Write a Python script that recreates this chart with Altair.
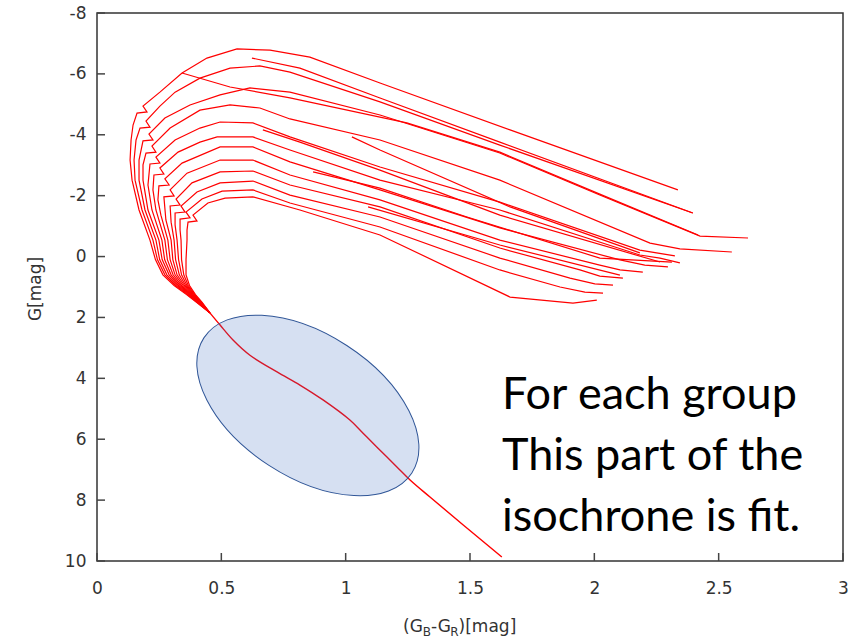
import altair as alt
import pandas as pd

# ---- axis ticks ----
x_ticks = [0, 0.5, 1, 1.5, 2, 2.5, 3]
y_ticks = [-8, -6, -4, -2, 0, 2, 4, 6, 8, 10]

# ---- shared lower main sequence ----
lms_x = [1.628, 1.339, 1.259, 1.206, 1.126, 1.070, 1.017, 0.909, 0.816, 0.724, 0.615, 0.547, 0.495, 0.454]
lms_g = [9.87, 7.90, 7.34, 6.91, 6.26, 5.80, 5.37, 4.71, 4.22, 3.79, 3.24, 2.74, 2.25, 1.85]

# ---- isochrones (upper MS, hook, giant branch) ----
iso_x = [
    [0.454, 0.400, 0.360, 0.310, 0.265, 0.235, 0.213, 0.169, 0.141, 0.133, 0.137, 0.145, 0.161, 0.201, 0.185, 0.253, 0.342, 0.442, 0.563, 0.696, 0.856, 1.138, 1.661, 2.336],
    [0.454, 0.402, 0.364, 0.316, 0.273, 0.243, 0.225, 0.181, 0.153, 0.149, 0.157, 0.173, 0.213, 0.197, 0.253, 0.314, 0.414, 0.535, 0.655, 0.776, 1.138, 1.620, 2.396],
    [0.454, 0.404, 0.368, 0.322, 0.281, 0.252, 0.237, 0.193, 0.169, 0.169, 0.185, 0.225, 0.209, 0.273, 0.374, 0.495, 0.615, 0.776, 1.138, 1.620, 2.022, 2.425, 2.618],
    [0.454, 0.406, 0.372, 0.328, 0.290, 0.262, 0.249, 0.205, 0.185, 0.185, 0.197, 0.237, 0.221, 0.294, 0.414, 0.535, 0.655, 0.776, 1.138, 1.620, 2.224, 2.344, 2.553],
    [0.454, 0.408, 0.375, 0.334, 0.298, 0.272, 0.261, 0.221, 0.205, 0.213, 0.253, 0.237, 0.314, 0.414, 0.495, 0.627, 0.776, 1.138, 1.620, 2.183, 2.324],
    [0.454, 0.410, 0.378, 0.340, 0.306, 0.283, 0.273, 0.237, 0.225, 0.229, 0.269, 0.253, 0.326, 0.414, 0.483, 0.627, 0.776, 1.138, 1.620, 2.183, 2.264, 2.344],
    [0.454, 0.412, 0.381, 0.346, 0.314, 0.294, 0.285, 0.257, 0.245, 0.249, 0.290, 0.273, 0.342, 0.495, 0.627, 0.776, 1.138, 1.620, 2.103, 2.203, 2.296],
    [0.454, 0.414, 0.384, 0.352, 0.322, 0.305, 0.298, 0.277, 0.269, 0.310, 0.294, 0.362, 0.495, 0.627, 0.776, 1.138, 1.620, 2.022, 2.103, 2.195],
    [0.454, 0.416, 0.387, 0.357, 0.331, 0.316, 0.310, 0.298, 0.294, 0.334, 0.318, 0.382, 0.495, 0.627, 0.776, 1.138, 1.620, 1.942, 2.022, 2.115],
    [0.454, 0.418, 0.390, 0.362, 0.340, 0.328, 0.322, 0.314, 0.314, 0.354, 0.338, 0.402, 0.495, 0.627, 0.776, 1.138, 1.620, 1.902, 2.002, 2.075],
    [0.454, 0.420, 0.393, 0.367, 0.349, 0.340, 0.338, 0.334, 0.334, 0.374, 0.358, 0.422, 0.503, 0.627, 0.776, 1.138, 1.620, 1.862, 1.962, 2.035],
    [0.454, 0.422, 0.396, 0.372, 0.358, 0.358, 0.362, 0.362, 0.366, 0.402, 0.386, 0.446, 0.515, 0.627, 0.816, 1.138, 1.661, 1.914, 2.010],
]
iso_g = [
    [1.85, 1.50, 1.25, 0.95, 0.60, 0.10, -0.54, -1.53, -2.51, -3.17, -3.83, -4.32, -4.71, -4.75, -4.94, -5.40, -6.03, -6.52, -6.82, -6.78, -6.55, -5.70, -4.16, -2.19],
    [1.85, 1.50, 1.25, 0.95, 0.60, 0.10, -0.54, -1.53, -2.51, -3.17, -3.83, -4.22, -4.25, -4.45, -4.94, -5.40, -5.86, -6.19, -6.26, -6.06, -5.08, -3.66, -1.43],
    [1.85, 1.50, 1.25, 0.95, 0.60, 0.10, -0.54, -1.53, -2.51, -3.17, -3.80, -3.83, -4.02, -4.55, -4.98, -5.31, -5.54, -5.40, -4.65, -3.40, -2.02, -0.67, -0.61],
    [1.85, 1.50, 1.25, 0.95, 0.60, 0.10, -0.54, -1.53, -2.51, -3.01, -3.40, -3.43, -3.63, -4.22, -4.81, -4.98, -4.88, -4.52, -3.83, -2.51, -0.44, -0.25, -0.15],
    [1.85, 1.50, 1.25, 0.95, 0.60, 0.10, -0.54, -1.53, -2.35, -3.04, -3.07, -3.27, -3.83, -4.22, -4.42, -4.39, -3.93, -2.94, -1.79, -0.21, -0.02],
    [1.85, 1.50, 1.25, 0.95, 0.60, 0.10, -0.54, -1.53, -2.19, -2.68, -2.71, -2.91, -3.43, -3.76, -3.93, -3.93, -3.50, -2.51, -1.53, -0.05, 0.05, 0.21],
    [1.85, 1.50, 1.25, 0.95, 0.60, 0.10, -0.54, -1.36, -1.86, -2.32, -2.35, -2.55, -3.07, -3.60, -3.60, -3.11, -2.19, -0.94, 0.11, 0.28, 0.34],
    [1.85, 1.50, 1.25, 0.95, 0.60, 0.10, -0.54, -1.20, -1.96, -1.99, -2.19, -2.74, -3.17, -3.17, -2.68, -1.86, -0.54, 0.28, 0.44, 0.51],
    [1.85, 1.50, 1.25, 0.95, 0.60, 0.10, -0.54, -1.13, -1.66, -1.69, -1.89, -2.42, -2.78, -2.81, -2.35, -1.63, -0.28, 0.44, 0.64, 0.71],
    [1.85, 1.50, 1.25, 0.95, 0.60, 0.10, -0.54, -1.04, -1.43, -1.46, -1.66, -2.12, -2.42, -2.48, -2.02, -1.30, 0.05, 0.71, 0.90, 0.94],
    [1.85, 1.50, 1.25, 0.95, 0.60, 0.10, -0.54, -0.87, -1.23, -1.27, -1.46, -1.89, -2.15, -2.19, -1.76, -0.97, 0.44, 1.00, 1.17, 1.20],
    [1.85, 1.50, 1.25, 0.95, 0.60, 0.10, -0.54, -0.87, -1.13, -1.17, -1.36, -1.76, -1.92, -1.96, -1.53, -0.71, 1.33, 1.53, 1.43],
]

# ---- blue-loop / return branches ----
loop_x = [
    [0.342, 0.535, 0.776, 1.246, 1.620, 2.022, 2.417],
    [0.623, 0.816, 1.138, 1.620, 2.396],
    [0.667, 0.816, 1.138, 1.620, 2.264],
    [0.869, 1.138, 1.488, 2.022, 2.312],
    [1.025, 1.138, 1.661, 2.183],
    [1.090, 1.620, 2.103],
]
loop_g = [
    [-6.03, -5.57, -5.21, -4.39, -3.43, -2.05, -0.71],
    [-6.52, -6.19, -5.21, -3.76, -1.43],
    [-4.16, -3.76, -2.84, -1.36, 0.18],
    [-2.78, -2.25, -1.30, 0.05, 0.18],
    [-3.93, -3.50, -1.63, -0.12],
    [-1.63, -0.38, 0.61],
]

# ---- highlighted region (ellipse) ----
ell_c = [0.848]
ell_g = [4.89]

annotation = "For each group\nThis part of the\nisochrone is fit."

# ---- build long tables ----
def table(named):
    rows = []
    for name, xs, gs in named:
        for k, (a, b) in enumerate(zip(xs, gs)):
            rows.append({"line": name, "k": k, "c": a, "G": b})
    return pd.DataFrame(rows)

df_lms = table([("lms", lms_x, lms_g)])
df = table([(f"iso{i}", xs, gs) for i, (xs, gs) in enumerate(zip(iso_x, iso_g))] +
           [(f"loop{i}", xs, gs) for i, (xs, gs) in enumerate(zip(loop_x, loop_g))])

W, H = 746, 548
lab_font = "DejaVu Sans"
lab_col = "#333333"
fs = 17

x_enc = alt.X("c:Q", title=None,
              scale=alt.Scale(domain=[0, 3], nice=False, zero=False),
              axis=alt.Axis(values=x_ticks, labelExpr="datum.value + ''", ticks=False, domain=False,
                            grid=False, labelFont=lab_font, labelFontSize=fs, labelColor=lab_col,
                            labelPadding=19, labelFlush=False))
y_enc = alt.Y("G:Q", title=None,
              scale=alt.Scale(domain=[-8, 10], reverse=True, nice=False, zero=False),
              axis=alt.Axis(values=y_ticks, labelExpr="datum.value + ''", ticks=False, domain=False,
                            grid=False, labelFont=lab_font, labelFontSize=fs, labelColor=lab_col,
                            labelPadding=11, labelFlush=False))

lms_line = alt.Chart(df_lms).mark_line(color="#ff0000", strokeWidth=1.4, interpolate="catmull-rom").encode(
    x=x_enc, y=y_enc, order="k:Q")
lines = alt.Chart(df).mark_line(color="#ff0000", strokeWidth=1.2).encode(
    x=x_enc, y=y_enc, detail="line:N", order="k:Q")

ell_path = "M -1 0 A 1 0.576 0 1 1 1 0 A 1 0.576 0 1 1 -1 0 Z"
ellipse = alt.Chart(pd.DataFrame({"c": ell_c, "G": ell_g})).mark_point(
    shape=ell_path, size=61504, angle=33, filled=True, fill="#4472C4", fillOpacity=0.22,
    stroke="#2F5597", strokeWidth=1, opacity=1).encode(x=x_enc, y=y_enc)

xt = alt.Chart(pd.DataFrame({"c": x_ticks})).mark_rule(color="#444444", strokeWidth=1.5).encode(
    x=x_enc, y=alt.value(H - 8), y2=alt.value(H))
yt = alt.Chart(pd.DataFrame({"G": y_ticks})).mark_rule(color="#444444", strokeWidth=1.5).encode(
    y=y_enc, x=alt.value(0), x2=alt.value(8))

note = alt.Chart(pd.DataFrame({"t": [annotation]})).mark_text(
    align="left", baseline="alphabetic", font="Lato", fontSize=45, color="black",
    lineBreak="\n", lineHeight=61).encode(text="t:N", x=alt.value(405), y=alt.value(396))

# axis titles
def txt(s, x, y, size=fs, angle=0, align="left"):
    return alt.Chart(pd.DataFrame({"t": [s]})).mark_text(
        align=align, baseline="alphabetic", font=lab_font, fontSize=size, color=lab_col,
        angle=angle).encode(text="t:N", x=alt.value(x), y=alt.value(y))

x0 = 306
ty = 619
xtitle = [
    txt("(G", x0, ty),
    txt("B", x0 + 19.8, ty + 4, size=12),
    txt("-G", x0 + 28.0, ty),
    txt("R", x0 + 47.3, ty + 4, size=12),
    txt(")[mag]", x0 + 55.6, ty),
]
ytitle = txt("G[mag]", -56, 276, angle=270, align="center")

chart = alt.layer(lms_line, lines, ellipse, xt, yt, note, *xtitle, ytitle).properties(
    width=W, height=H,
    autosize=alt.AutoSizeParams(type="none"),
    padding={"left": 97, "top": 13, "right": 15, "bottom": 81},
    background="white",
).configure_view(stroke="#333333", strokeWidth=1.5)

chart.save("out.html", embed_options={"renderer": "svg", "actions": False})
